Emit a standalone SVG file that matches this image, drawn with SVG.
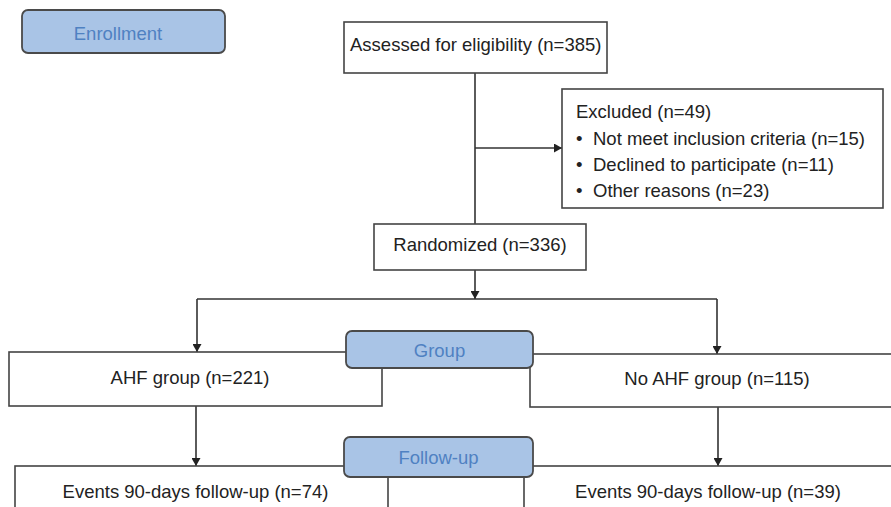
<svg xmlns="http://www.w3.org/2000/svg" width="891" height="507" viewBox="0 0 891 507">
  <defs>
    <marker id="arr" markerUnits="userSpaceOnUse" markerWidth="9" markerHeight="9" refX="8" refY="4.5" orient="auto">
      <path d="M0,0 L8,4.5 L0,9 z" fill="#222"/>
    </marker>
    <style>
      text { font-family: "Liberation Sans", Arial, sans-serif; font-size: 18.5px; fill: #222; }
      .box { fill: #fff; stroke: #444; stroke-width: 1.6; }
      .lab { fill: #a9c4e6; stroke: #4a4a4a; stroke-width: 1.8; }
      .labt { fill: #4f81c2; text-anchor: middle; }
      .c { text-anchor: middle; }
      .conn { fill: none; stroke: #333; stroke-width: 1.6; }
    </style>
  </defs>
  <rect width="891" height="507" fill="#fff"/>

  <g id="connectors">
    <line class="conn" x1="475" y1="73" x2="475" y2="224"/>
    <line class="conn" x1="475" y1="148" x2="562" y2="148" marker-end="url(#arr)"/>
    <line class="conn" x1="475" y1="270" x2="475" y2="299" marker-end="url(#arr)"/>
    <line class="conn" x1="197" y1="299" x2="717" y2="299"/>
    <line class="conn" x1="197" y1="299" x2="197" y2="352" marker-end="url(#arr)"/>
    <line class="conn" x1="717" y1="299" x2="717" y2="354" marker-end="url(#arr)"/>
    <line class="conn" x1="196" y1="406" x2="196" y2="466" marker-end="url(#arr)"/>
    <line class="conn" x1="718" y1="407" x2="718" y2="466" marker-end="url(#arr)"/>
  </g>

  <g id="enrollment">
    <rect class="lab" x="22" y="10" width="203" height="43" rx="6"/>
    <text class="labt" x="118" y="39.5">Enrollment</text>
  </g>

  <g id="assessed">
    <rect class="box" x="344" y="22" width="263" height="51"/>
    <text x="350" y="51">Assessed for eligibility (n=385)</text>
  </g>

  <g id="excluded">
    <rect class="box" x="562" y="89" width="321" height="119"/>
    <text x="576" y="117.5">Excluded (n=49)</text>
    <text x="576" y="144.5">•</text>
    <text x="593" y="144.5">Not meet inclusion criteria (n=15)</text>
    <text x="576" y="170.5">•</text>
    <text x="593" y="170.5">Declined to participate (n=11)</text>
    <text x="576" y="196.5">•</text>
    <text x="593" y="196.5">Other reasons (n=23)</text>
  </g>

  <g id="randomized">
    <rect class="box" x="374" y="224" width="212" height="46"/>
    <text class="c" x="480" y="251">Randomized (n=336)</text>
  </g>

  <g id="ahf">
    <rect class="box" x="9" y="352" width="373" height="54"/>
    <text class="c" x="190" y="384">AHF group (n=221)</text>
  </g>

  <g id="noahf">
    <rect class="box" x="530" y="354" width="380" height="53"/>
    <text class="c" x="717" y="385">No AHF group (n=115)</text>
  </g>

  <g id="group-label">
    <rect class="lab" x="346" y="331" width="187" height="37" rx="6"/>
    <text class="labt" x="439.5" y="357">Group</text>
  </g>

  <g id="events-ahf">
    <rect class="box" x="15" y="466" width="373" height="60"/>
    <text class="c" x="195.5" y="498">Events 90-days follow-up (n=74)</text>
  </g>

  <g id="events-noahf">
    <rect class="box" x="524" y="466" width="380" height="60"/>
    <text class="c" x="708" y="498">Events 90-days follow-up (n=39)</text>
  </g>

  <g id="followup-label">
    <rect class="lab" x="344" y="437" width="189" height="40" rx="6"/>
    <text class="labt" x="438.5" y="464">Follow-up</text>
  </g>
</svg>
